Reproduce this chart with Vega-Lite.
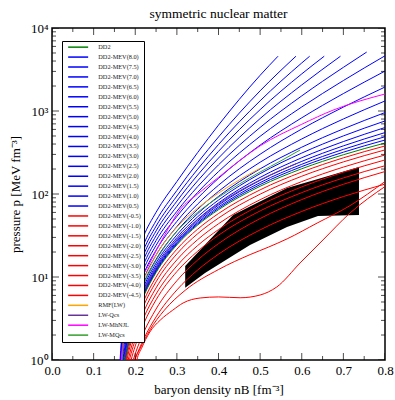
{
"$schema":"https://vega.github.io/schema/vega-lite/v6.json",
"width":333,"height":332,
"autosize":{"type":"none"},
"padding":{"left":52,"top":28,"right":10,"bottom":40},
"config":{"font":"Liberation Serif","view":{"stroke":"black","strokeWidth":1.5},
 "axis":{"grid":false,"domain":false,"labelColor":"black","titleColor":"black","labelFont":"Liberation Serif","titleFont":"Liberation Serif","titleFontWeight":"normal"}},
"title":{"text":"symmetric nuclear matter","font":"Liberation Serif","fontSize":13.5,"fontWeight":"normal","color":"black","offset":2,"anchor":"middle"},
"datasets":{
"band":[{"n":0.32,"top":13.6,"bot":7.4},{"n":0.3676,"top":24.4,"bot":11.2},{"n":0.435,"top":55.8,"bot":18.2},{"n":0.4757,"top":70.6,"bot":24.3},{"n":0.5646,"top":118,"bot":40},{"n":0.639,"top":152,"bot":54.3},{"n":0.7375,"top":211,"bot":55.8}],
"xmajor":[{"v":0},{"v":0.1},{"v":0.2},{"v":0.3},{"v":0.4},{"v":0.5},{"v":0.6},{"v":0.7},{"v":0.8}],
"xminor":[{"v":0.05},{"v":0.15},{"v":0.25},{"v":0.35},{"v":0.45},{"v":0.55},{"v":0.65},{"v":0.75}],
"ymajor":[{"v":1},{"v":10},{"v":100},{"v":1000},{"v":10000}],
"yminor":[{"v":2},{"v":3},{"v":4},{"v":5},{"v":6},{"v":7},{"v":8},{"v":9},{"v":20},{"v":30},{"v":40},{"v":50},{"v":60},{"v":70},{"v":80},{"v":90},{"v":200},{"v":300},{"v":400},{"v":500},{"v":600},{"v":700},{"v":800},{"v":900},{"v":2000},{"v":3000},{"v":4000},{"v":5000},{"v":6000},{"v":7000},{"v":8000},{"v":9000}],
"curves":[
{"m":"DD2-MEV(-0.5)","n":0.17,"p":0.575},{"m":"DD2-MEV(-0.5)","n":0.18,"p":1.124},{"m":"DD2-MEV(-0.5)","n":0.19,"p":1.852},{"m":"DD2-MEV(-0.5)","n":0.2,"p":2.76},{"m":"DD2-MEV(-0.5)","n":0.22,"p":5.11},{"m":"DD2-MEV(-0.5)","n":0.25,"p":9.975},{"m":"DD2-MEV(-0.5)","n":0.3,"p":21.63},{"m":"DD2-MEV(-0.5)","n":0.35,"p":37.71},{"m":"DD2-MEV(-0.5)","n":0.4,"p":58.17},{"m":"DD2-MEV(-0.5)","n":0.5,"p":112.2},{"m":"DD2-MEV(-0.5)","n":0.6,"p":183.8},{"m":"DD2-MEV(-0.5)","n":0.7,"p":272.8},{"m":"DD2-MEV(-0.5)","n":0.8,"p":379},
{"m":"DD2-MEV(-1.0)","n":0.17,"p":0.52},{"m":"DD2-MEV(-1.0)","n":0.18,"p":1.0},{"m":"DD2-MEV(-1.0)","n":0.19,"p":1.636},{"m":"DD2-MEV(-1.0)","n":0.2,"p":2.428},{"m":"DD2-MEV(-1.0)","n":0.22,"p":4.484},{"m":"DD2-MEV(-1.0)","n":0.25,"p":8.744},{"m":"DD2-MEV(-1.0)","n":0.3,"p":18.99},{"m":"DD2-MEV(-1.0)","n":0.35,"p":33.2},{"m":"DD2-MEV(-1.0)","n":0.4,"p":51.35},{"m":"DD2-MEV(-1.0)","n":0.5,"p":99.54},{"m":"DD2-MEV(-1.0)","n":0.6,"p":163.7},{"m":"DD2-MEV(-1.0)","n":0.7,"p":243.7},{"m":"DD2-MEV(-1.0)","n":0.8,"p":339.8},
{"m":"DD2-MEV(-1.5)","n":0.17,"p":0.45},{"m":"DD2-MEV(-1.5)","n":0.18,"p":0.853},{"m":"DD2-MEV(-1.5)","n":0.19,"p":1.388},{"m":"DD2-MEV(-1.5)","n":0.2,"p":2.054},{"m":"DD2-MEV(-1.5)","n":0.22,"p":3.784},{"m":"DD2-MEV(-1.5)","n":0.25,"p":7.387},{"m":"DD2-MEV(-1.5)","n":0.3,"p":16.09},{"m":"DD2-MEV(-1.5)","n":0.35,"p":28.22},{"m":"DD2-MEV(-1.5)","n":0.4,"p":43.82},{"m":"DD2-MEV(-1.5)","n":0.5,"p":85.44},{"m":"DD2-MEV(-1.5)","n":0.6,"p":141.2},{"m":"DD2-MEV(-1.5)","n":0.7,"p":211},{"m":"DD2-MEV(-1.5)","n":0.8,"p":295.1},
{"m":"DD2-MEV(-2.0)","n":0.18,"p":0.744},{"m":"DD2-MEV(-2.0)","n":0.19,"p":1.193},{"m":"DD2-MEV(-2.0)","n":0.2,"p":1.751},{"m":"DD2-MEV(-2.0)","n":0.22,"p":3.202},{"m":"DD2-MEV(-2.0)","n":0.25,"p":6.232},{"m":"DD2-MEV(-2.0)","n":0.3,"p":13.6},{"m":"DD2-MEV(-2.0)","n":0.35,"p":23.94},{"m":"DD2-MEV(-2.0)","n":0.4,"p":37.29},{"m":"DD2-MEV(-2.0)","n":0.5,"p":73.25},{"m":"DD2-MEV(-2.0)","n":0.6,"p":121.8},{"m":"DD2-MEV(-2.0)","n":0.7,"p":183},{"m":"DD2-MEV(-2.0)","n":0.8,"p":257.2},
{"m":"DD2-MEV(-2.5)","n":0.18,"p":0.618},{"m":"DD2-MEV(-2.5)","n":0.19,"p":1.0},{"m":"DD2-MEV(-2.5)","n":0.2,"p":1.476},{"m":"DD2-MEV(-2.5)","n":0.22,"p":2.716},{"m":"DD2-MEV(-2.5)","n":0.25,"p":5.309},{"m":"DD2-MEV(-2.5)","n":0.3,"p":11.62},{"m":"DD2-MEV(-2.5)","n":0.35,"p":20.46},{"m":"DD2-MEV(-2.5)","n":0.4,"p":31.88},{"m":"DD2-MEV(-2.5)","n":0.5,"p":62.57},{"m":"DD2-MEV(-2.5)","n":0.6,"p":103.9},{"m":"DD2-MEV(-2.5)","n":0.7,"p":156.1},{"m":"DD2-MEV(-2.5)","n":0.8,"p":219},
{"m":"DD2-MEV(-3.0)","n":0.19,"p":0.828},{"m":"DD2-MEV(-3.0)","n":0.2,"p":1.19},{"m":"DD2-MEV(-3.0)","n":0.22,"p":2.132},{"m":"DD2-MEV(-3.0)","n":0.25,"p":4.114},{"m":"DD2-MEV(-3.0)","n":0.3,"p":9.016},{"m":"DD2-MEV(-3.0)","n":0.35,"p":16.02},{"m":"DD2-MEV(-3.0)","n":0.4,"p":25.25},{"m":"DD2-MEV(-3.0)","n":0.5,"p":50.62},{"m":"DD2-MEV(-3.0)","n":0.6,"p":85.7},{"m":"DD2-MEV(-3.0)","n":0.7,"p":130.9},{"m":"DD2-MEV(-3.0)","n":0.8,"p":186.5},
{"m":"DD2-MEV(-3.5)","n":0.19,"p":0.739},{"m":"DD2-MEV(-3.5)","n":0.2,"p":1.032},{"m":"DD2-MEV(-3.5)","n":0.22,"p":1.776},{"m":"DD2-MEV(-3.5)","n":0.25,"p":3.303},{"m":"DD2-MEV(-3.5)","n":0.3,"p":6.982},{"m":"DD2-MEV(-3.5)","n":0.35,"p":12.14},{"m":"DD2-MEV(-3.5)","n":0.4,"p":18.83},{"m":"DD2-MEV(-3.5)","n":0.5,"p":36.97},{"m":"DD2-MEV(-3.5)","n":0.6,"p":61.66},{"m":"DD2-MEV(-3.5)","n":0.7,"p":93.18},{"m":"DD2-MEV(-3.5)","n":0.8,"p":131.6},
{"m":"DD2-MEV(-4.0)","n":0.19,"p":0.501},{"m":"DD2-MEV(-4.0)","n":0.199,"p":1.0},{"m":"DD2-MEV(-4.0)","n":0.21,"p":1.318},{"m":"DD2-MEV(-4.0)","n":0.235,"p":2.291},{"m":"DD2-MEV(-4.0)","n":0.27,"p":3.981},{"m":"DD2-MEV(-4.0)","n":0.32,"p":6.918},{"m":"DD2-MEV(-4.0)","n":0.4,"p":12.3},{"m":"DD2-MEV(-4.0)","n":0.476,"p":18.62},{"m":"DD2-MEV(-4.0)","n":0.52,"p":22.91},{"m":"DD2-MEV(-4.0)","n":0.565,"p":28.84},{"m":"DD2-MEV(-4.0)","n":0.637,"p":44.67},{"m":"DD2-MEV(-4.0)","n":0.716,"p":72.44},{"m":"DD2-MEV(-4.0)","n":0.8,"p":141.3},
{"m":"DD2-MEV(-4.5)","n":0.195,"p":0.501},{"m":"DD2-MEV(-4.5)","n":0.204,"p":1.0},{"m":"DD2-MEV(-4.5)","n":0.215,"p":1.38},{"m":"DD2-MEV(-4.5)","n":0.235,"p":2.173},{"m":"DD2-MEV(-4.5)","n":0.26,"p":3.02},{"m":"DD2-MEV(-4.5)","n":0.29,"p":3.981},{"m":"DD2-MEV(-4.5)","n":0.315,"p":4.864},{"m":"DD2-MEV(-4.5)","n":0.356,"p":5.585},{"m":"DD2-MEV(-4.5)","n":0.4,"p":5.754},{"m":"DD2-MEV(-4.5)","n":0.452,"p":5.623},{"m":"DD2-MEV(-4.5)","n":0.5,"p":6.067},{"m":"DD2-MEV(-4.5)","n":0.54,"p":7.586},{"m":"DD2-MEV(-4.5)","n":0.596,"p":14.76},{"m":"DD2-MEV(-4.5)","n":0.651,"p":27.93},{"m":"DD2-MEV(-4.5)","n":0.716,"p":59.02},{"m":"DD2-MEV(-4.5)","n":0.8,"p":123},
{"m":"DD2-MEV(0.5)","n":0.17,"p":0.662},{"m":"DD2-MEV(0.5)","n":0.18,"p":1.31},{"m":"DD2-MEV(0.5)","n":0.19,"p":2.17},{"m":"DD2-MEV(0.5)","n":0.2,"p":3.23},{"m":"DD2-MEV(0.5)","n":0.22,"p":5.98},{"m":"DD2-MEV(0.5)","n":0.25,"p":11.6},{"m":"DD2-MEV(0.5)","n":0.3,"p":25.1},{"m":"DD2-MEV(0.5)","n":0.35,"p":43.6},{"m":"DD2-MEV(0.5)","n":0.4,"p":67.1},{"m":"DD2-MEV(0.5)","n":0.5,"p":130},{"m":"DD2-MEV(0.5)","n":0.6,"p":214},{"m":"DD2-MEV(0.5)","n":0.7,"p":319},{"m":"DD2-MEV(0.5)","n":0.8,"p":447},
{"m":"DD2-MEV(1.0)","n":0.17,"p":0.679},{"m":"DD2-MEV(1.0)","n":0.18,"p":1.343},{"m":"DD2-MEV(1.0)","n":0.19,"p":2.228},{"m":"DD2-MEV(1.0)","n":0.2,"p":3.319},{"m":"DD2-MEV(1.0)","n":0.22,"p":6.166},{"m":"DD2-MEV(1.0)","n":0.25,"p":11.97},{"m":"DD2-MEV(1.0)","n":0.3,"p":25.82},{"m":"DD2-MEV(1.0)","n":0.35,"p":45.08},{"m":"DD2-MEV(1.0)","n":0.4,"p":69.82},{"m":"DD2-MEV(1.0)","n":0.5,"p":137.1},{"m":"DD2-MEV(1.0)","n":0.6,"p":228},{"m":"DD2-MEV(1.0)","n":0.7,"p":345.1},{"m":"DD2-MEV(1.0)","n":0.8,"p":489.8},
{"m":"DD2-MEV(1.5)","n":0.17,"p":0.7},{"m":"DD2-MEV(1.5)","n":0.18,"p":1.387},{"m":"DD2-MEV(1.5)","n":0.19,"p":2.307},{"m":"DD2-MEV(1.5)","n":0.2,"p":3.436},{"m":"DD2-MEV(1.5)","n":0.22,"p":6.383},{"m":"DD2-MEV(1.5)","n":0.25,"p":12.39},{"m":"DD2-MEV(1.5)","n":0.3,"p":26.79},{"m":"DD2-MEV(1.5)","n":0.35,"p":47.1},{"m":"DD2-MEV(1.5)","n":0.4,"p":73.45},{"m":"DD2-MEV(1.5)","n":0.5,"p":146.2},{"m":"DD2-MEV(1.5)","n":0.6,"p":247.2},{"m":"DD2-MEV(1.5)","n":0.7,"p":380.2},{"m":"DD2-MEV(1.5)","n":0.8,"p":549.5},
{"m":"DD2-MEV(2.0)","n":0.17,"p":0.728},{"m":"DD2-MEV(2.0)","n":0.18,"p":1.445},{"m":"DD2-MEV(2.0)","n":0.19,"p":2.404},{"m":"DD2-MEV(2.0)","n":0.2,"p":3.581},{"m":"DD2-MEV(2.0)","n":0.22,"p":6.668},{"m":"DD2-MEV(2.0)","n":0.25,"p":12.94},{"m":"DD2-MEV(2.0)","n":0.3,"p":28.05},{"m":"DD2-MEV(2.0)","n":0.35,"p":49.66},{"m":"DD2-MEV(2.0)","n":0.4,"p":78.16},{"m":"DD2-MEV(2.0)","n":0.5,"p":158.5},{"m":"DD2-MEV(2.0)","n":0.6,"p":273.5},{"m":"DD2-MEV(2.0)","n":0.7,"p":428.5},{"m":"DD2-MEV(2.0)","n":0.8,"p":632.4},
{"m":"DD2-MEV(2.5)","n":0.17,"p":0.766},{"m":"DD2-MEV(2.5)","n":0.18,"p":1.524},{"m":"DD2-MEV(2.5)","n":0.19,"p":2.535},{"m":"DD2-MEV(2.5)","n":0.2,"p":3.784},{"m":"DD2-MEV(2.5)","n":0.22,"p":7.063},{"m":"DD2-MEV(2.5)","n":0.25,"p":13.71},{"m":"DD2-MEV(2.5)","n":0.3,"p":29.79},{"m":"DD2-MEV(2.5)","n":0.35,"p":53.21},{"m":"DD2-MEV(2.5)","n":0.4,"p":84.53},{"m":"DD2-MEV(2.5)","n":0.5,"p":175.8},{"m":"DD2-MEV(2.5)","n":0.6,"p":311.2},{"m":"DD2-MEV(2.5)","n":0.7,"p":501.2},{"m":"DD2-MEV(2.5)","n":0.8,"p":758.6},
{"m":"DD2-MEV(3.0)","n":0.17,"p":0.815},{"m":"DD2-MEV(3.0)","n":0.18,"p":1.629},{"m":"DD2-MEV(3.0)","n":0.19,"p":2.716},{"m":"DD2-MEV(3.0)","n":0.2,"p":4.055},{"m":"DD2-MEV(3.0)","n":0.22,"p":7.586},{"m":"DD2-MEV(3.0)","n":0.25,"p":14.72},{"m":"DD2-MEV(3.0)","n":0.3,"p":32.14},{"m":"DD2-MEV(3.0)","n":0.35,"p":57.94},{"m":"DD2-MEV(3.0)","n":0.4,"p":93.54},{"m":"DD2-MEV(3.0)","n":0.5,"p":200.9},{"m":"DD2-MEV(3.0)","n":0.6,"p":366.4},{"m":"DD2-MEV(3.0)","n":0.7,"p":609.5},{"m":"DD2-MEV(3.0)","n":0.8,"p":957.2},
{"m":"DD2-MEV(3.5)","n":0.17,"p":0.891},{"m":"DD2-MEV(3.5)","n":0.18,"p":1.786},{"m":"DD2-MEV(3.5)","n":0.19,"p":2.992},{"m":"DD2-MEV(3.5)","n":0.2,"p":4.467},{"m":"DD2-MEV(3.5)","n":0.22,"p":8.375},{"m":"DD2-MEV(3.5)","n":0.25,"p":16.29},{"m":"DD2-MEV(3.5)","n":0.3,"p":35.73},{"m":"DD2-MEV(3.5)","n":0.35,"p":65.46},{"m":"DD2-MEV(3.5)","n":0.4,"p":107.6},{"m":"DD2-MEV(3.5)","n":0.5,"p":241.5},{"m":"DD2-MEV(3.5)","n":0.6,"p":460.3},{"m":"DD2-MEV(3.5)","n":0.7,"p":801.7},{"m":"DD2-MEV(3.5)","n":0.8,"p":1321},
{"m":"DD2-MEV(4.0)","n":0.17,"p":0.991},{"m":"DD2-MEV(4.0)","n":0.18,"p":2.0},{"m":"DD2-MEV(4.0)","n":0.19,"p":3.357},{"m":"DD2-MEV(4.0)","n":0.2,"p":5.023},{"m":"DD2-MEV(4.0)","n":0.22,"p":9.441},{"m":"DD2-MEV(4.0)","n":0.25,"p":18.37},{"m":"DD2-MEV(4.0)","n":0.3,"p":40.55},{"m":"DD2-MEV(4.0)","n":0.35,"p":75.68},{"m":"DD2-MEV(4.0)","n":0.4,"p":127.6},{"m":"DD2-MEV(4.0)","n":0.5,"p":301.3},{"m":"DD2-MEV(4.0)","n":0.6,"p":606.7},{"m":"DD2-MEV(4.0)","n":0.7,"p":1114},{"m":"DD2-MEV(4.0)","n":0.8,"p":1945},
{"m":"DD2-MEV(4.5)","n":0.16,"p":0.303},{"m":"DD2-MEV(4.5)","n":0.17,"p":1.117},{"m":"DD2-MEV(4.5)","n":0.18,"p":2.27},{"m":"DD2-MEV(4.5)","n":0.19,"p":3.828},{"m":"DD2-MEV(4.5)","n":0.2,"p":5.728},{"m":"DD2-MEV(4.5)","n":0.22,"p":10.84},{"m":"DD2-MEV(4.5)","n":0.25,"p":21.04},{"m":"DD2-MEV(4.5)","n":0.3,"p":46.77},{"m":"DD2-MEV(4.5)","n":0.35,"p":89.13},{"m":"DD2-MEV(4.5)","n":0.4,"p":154.5},{"m":"DD2-MEV(4.5)","n":0.5,"p":388.1},{"m":"DD2-MEV(4.5)","n":0.6,"p":827.9},{"m":"DD2-MEV(4.5)","n":0.7,"p":1622},{"m":"DD2-MEV(4.5)","n":0.8,"p":3027},
{"m":"DD2-MEV(5.0)","n":0.16,"p":0.324},{"m":"DD2-MEV(5.0)","n":0.17,"p":1.256},{"m":"DD2-MEV(5.0)","n":0.18,"p":2.564},{"m":"DD2-MEV(5.0)","n":0.19,"p":4.345},{"m":"DD2-MEV(5.0)","n":0.2,"p":6.516},{"m":"DD2-MEV(5.0)","n":0.22,"p":12.36},{"m":"DD2-MEV(5.0)","n":0.25,"p":24.04},{"m":"DD2-MEV(5.0)","n":0.3,"p":53.7},{"m":"DD2-MEV(5.0)","n":0.35,"p":104.5},{"m":"DD2-MEV(5.0)","n":0.4,"p":186.2},{"m":"DD2-MEV(5.0)","n":0.5,"p":495.5},{"m":"DD2-MEV(5.0)","n":0.6,"p":1119},{"m":"DD2-MEV(5.0)","n":0.7,"p":2328},{"m":"DD2-MEV(5.0)","n":0.8,"p":4624},
{"m":"DD2-MEV(5.5)","n":0.16,"p":0.344},{"m":"DD2-MEV(5.5)","n":0.17,"p":1.413},{"m":"DD2-MEV(5.5)","n":0.18,"p":2.904},{"m":"DD2-MEV(5.5)","n":0.19,"p":4.932},{"m":"DD2-MEV(5.5)","n":0.2,"p":7.413},{"m":"DD2-MEV(5.5)","n":0.22,"p":14.13},{"m":"DD2-MEV(5.5)","n":0.25,"p":27.48},{"m":"DD2-MEV(5.5)","n":0.3,"p":61.8},{"m":"DD2-MEV(5.5)","n":0.35,"p":122.7},{"m":"DD2-MEV(5.5)","n":0.4,"p":224.4},{"m":"DD2-MEV(5.5)","n":0.5,"p":633.9},{"m":"DD2-MEV(5.5)","n":0.6,"p":1521},{"m":"DD2-MEV(5.5)","n":0.7,"p":3357},{"m":"DD2-MEV(5.5)","n":0.756,"p":5129},
{"m":"DD2-MEV(6.0)","n":0.16,"p":0.367},{"m":"DD2-MEV(6.0)","n":0.17,"p":1.589},{"m":"DD2-MEV(6.0)","n":0.18,"p":3.289},{"m":"DD2-MEV(6.0)","n":0.19,"p":5.61},{"m":"DD2-MEV(6.0)","n":0.2,"p":8.433},{"m":"DD2-MEV(6.0)","n":0.22,"p":16.14},{"m":"DD2-MEV(6.0)","n":0.25,"p":31.41},{"m":"DD2-MEV(6.0)","n":0.3,"p":71.12},{"m":"DD2-MEV(6.0)","n":0.35,"p":144.2},{"m":"DD2-MEV(6.0)","n":0.4,"p":271},{"m":"DD2-MEV(6.0)","n":0.5,"p":810.9},{"m":"DD2-MEV(6.0)","n":0.6,"p":2061},{"m":"DD2-MEV(6.0)","n":0.693,"p":4571},
{"m":"DD2-MEV(6.5)","n":0.16,"p":0.392},{"m":"DD2-MEV(6.5)","n":0.17,"p":1.786},{"m":"DD2-MEV(6.5)","n":0.18,"p":3.724},{"m":"DD2-MEV(6.5)","n":0.19,"p":6.383},{"m":"DD2-MEV(6.5)","n":0.2,"p":9.594},{"m":"DD2-MEV(6.5)","n":0.22,"p":18.45},{"m":"DD2-MEV(6.5)","n":0.25,"p":35.89},{"m":"DD2-MEV(6.5)","n":0.3,"p":82.04},{"m":"DD2-MEV(6.5)","n":0.35,"p":169.4},{"m":"DD2-MEV(6.5)","n":0.4,"p":326.6},{"m":"DD2-MEV(6.5)","n":0.5,"p":1038},{"m":"DD2-MEV(6.5)","n":0.6,"p":2799},{"m":"DD2-MEV(6.5)","n":0.654,"p":4571},
{"m":"DD2-MEV(7.0)","n":0.16,"p":0.417},{"m":"DD2-MEV(7.0)","n":0.17,"p":2.009},{"m":"DD2-MEV(7.0)","n":0.18,"p":4.217},{"m":"DD2-MEV(7.0)","n":0.19,"p":7.244},{"m":"DD2-MEV(7.0)","n":0.2,"p":10.94},{"m":"DD2-MEV(7.0)","n":0.22,"p":21.09},{"m":"DD2-MEV(7.0)","n":0.25,"p":41.02},{"m":"DD2-MEV(7.0)","n":0.3,"p":94.41},{"m":"DD2-MEV(7.0)","n":0.35,"p":199.1},{"m":"DD2-MEV(7.0)","n":0.4,"p":394.5},{"m":"DD2-MEV(7.0)","n":0.5,"p":1327},{"m":"DD2-MEV(7.0)","n":0.6,"p":3793},{"m":"DD2-MEV(7.0)","n":0.619,"p":4571},
{"m":"DD2-MEV(7.5)","n":0.16,"p":0.449},{"m":"DD2-MEV(7.5)","n":0.17,"p":2.296},{"m":"DD2-MEV(7.5)","n":0.18,"p":4.853},{"m":"DD2-MEV(7.5)","n":0.19,"p":8.375},{"m":"DD2-MEV(7.5)","n":0.2,"p":12.65},{"m":"DD2-MEV(7.5)","n":0.22,"p":24.49},{"m":"DD2-MEV(7.5)","n":0.25,"p":47.64},{"m":"DD2-MEV(7.5)","n":0.3,"p":110.4},{"m":"DD2-MEV(7.5)","n":0.35,"p":238.8},{"m":"DD2-MEV(7.5)","n":0.4,"p":486.4},{"m":"DD2-MEV(7.5)","n":0.5,"p":1750},{"m":"DD2-MEV(7.5)","n":0.586,"p":4571},
{"m":"DD2-MEV(8.0)","n":0.16,"p":0.501},{"m":"DD2-MEV(8.0)","n":0.17,"p":2.818},{"m":"DD2-MEV(8.0)","n":0.18,"p":6.026},{"m":"DD2-MEV(8.0)","n":0.19,"p":10.47},{"m":"DD2-MEV(8.0)","n":0.2,"p":15.85},{"m":"DD2-MEV(8.0)","n":0.22,"p":30.9},{"m":"DD2-MEV(8.0)","n":0.25,"p":60.26},{"m":"DD2-MEV(8.0)","n":0.3,"p":141.3},{"m":"DD2-MEV(8.0)","n":0.35,"p":316.2},{"m":"DD2-MEV(8.0)","n":0.4,"p":676.1},{"m":"DD2-MEV(8.0)","n":0.5,"p":2692},{"m":"DD2-MEV(8.0)","n":0.543,"p":4571},
{"m":"DD2","n":0.16,"p":0.226},{"m":"DD2","n":0.17,"p":0.647},{"m":"DD2","n":0.18,"p":1.276},{"m":"DD2","n":0.19,"p":2.113},{"m":"DD2","n":0.2,"p":3.148},{"m":"DD2","n":0.22,"p":5.834},{"m":"DD2","n":0.25,"p":11.32},{"m":"DD2","n":0.3,"p":24.38},{"m":"DD2","n":0.35,"p":42.27},{"m":"DD2","n":0.4,"p":64.71},{"m":"DD2","n":0.5,"p":123.9},{"m":"DD2","n":0.6,"p":201.4},{"m":"DD2","n":0.7,"p":297.2},{"m":"DD2","n":0.8,"p":411.1},
{"m":"LW-Qcs","n":0.165,"p":0.398},{"m":"LW-Qcs","n":0.17,"p":0.759},{"m":"LW-Qcs","n":0.18,"p":1.445},{"m":"LW-Qcs","n":0.19,"p":2.399},{"m":"LW-Qcs","n":0.2,"p":3.548},{"m":"LW-Qcs","n":0.22,"p":6.607},{"m":"LW-Qcs","n":0.25,"p":12.88},{"m":"LW-Qcs","n":0.3,"p":28.18},{"m":"LW-Qcs","n":0.35,"p":48.98},{"m":"LW-Qcs","n":0.4,"p":75.86},{"m":"LW-Qcs","n":0.5,"p":147.9},{"m":"LW-Qcs","n":0.589,"p":234.4},
{"m":"RMF(LW)","n":0.165,"p":0.708},{"m":"RMF(LW)","n":0.17,"p":1.413},{"m":"RMF(LW)","n":0.18,"p":2.818},{"m":"RMF(LW)","n":0.19,"p":4.266},{"m":"RMF(LW)","n":0.2,"p":5.888},{"m":"RMF(LW)","n":0.22,"p":9.333},{"m":"RMF(LW)","n":0.25,"p":18.2},{"m":"RMF(LW)","n":0.3,"p":39.81},{"m":"RMF(LW)","n":0.35,"p":67.61},{"m":"RMF(LW)","n":0.4,"p":102.3},{"m":"RMF(LW)","n":0.45,"p":147.9},{"m":"RMF(LW)","n":0.5,"p":204.2},
{"m":"LW-MQcs","n":0.165,"p":0.631},{"m":"LW-MQcs","n":0.17,"p":1.259},{"m":"LW-MQcs","n":0.18,"p":2.512},{"m":"LW-MQcs","n":0.19,"p":3.802},{"m":"LW-MQcs","n":0.2,"p":5.248},{"m":"LW-MQcs","n":0.22,"p":8.318},{"m":"LW-MQcs","n":0.25,"p":15.85},{"m":"LW-MQcs","n":0.3,"p":35.48},{"m":"LW-MQcs","n":0.35,"p":60.26},{"m":"LW-MQcs","n":0.4,"p":91.2},{"m":"LW-MQcs","n":0.45,"p":131.8},{"m":"LW-MQcs","n":0.5,"p":184.1},{"m":"LW-MQcs","n":0.55,"p":251.2},{"m":"LW-MQcs","n":0.596,"p":338.8},
{"m":"LW-MhNJL","n":0.165,"p":0.794},{"m":"LW-MhNJL","n":0.17,"p":1.585},{"m":"LW-MhNJL","n":0.18,"p":3.162},{"m":"LW-MhNJL","n":0.19,"p":4.786},{"m":"LW-MhNJL","n":0.2,"p":6.607},{"m":"LW-MhNJL","n":0.235,"p":14.79},{"m":"LW-MhNJL","n":0.27,"p":31.62},{"m":"LW-MhNJL","n":0.3075,"p":64.57},{"m":"LW-MhNJL","n":0.35,"p":100},{"m":"LW-MhNJL","n":0.4,"p":158.5},{"m":"LW-MhNJL","n":0.45,"p":251.2},{"m":"LW-MhNJL","n":0.5,"p":380.2},{"m":"LW-MhNJL","n":0.6,"p":691.8},{"m":"LW-MhNJL","n":0.675,"p":1023},{"m":"LW-MhNJL","n":0.8,"p":1603}
]},
"layer":[
{"data":{"name":"band"},"mark":{"type":"area","color":"black","interpolate":"linear"},
 "encoding":{
  "x":{"field":"n","type":"quantitative","scale":{"domain":[0,0.8],"nice":false,"zero":false},
   "axis":{"orient":"bottom","values":[0,0.1,0.2,0.3,0.4,0.5,0.6,0.7,0.8],"format":".1f","ticks":false,"labelPadding":4,"labelFontSize":13,"labelFlush":false,"title":"baryon density  nB    [fm\u207b\u00b3]","titleFontSize":13,"titlePadding":6}},
  "y":{"field":"top","type":"quantitative","scale":{"type":"log","domain":[1,10000],"nice":false},
   "axis":{"orient":"left","values":[1,10,100,1000,10000],"ticks":false,"labelPadding":4,"labelFontSize":13,"labelExpr":"datum.value == 1 ? '10\u2070' : datum.value == 10 ? '10\u00b9' : datum.value == 100 ? '10\u00b2' : datum.value == 1000 ? '10\u00b3' : '10\u2074'","title":"pressure     p     [MeV fm\u207b\u00b3]","titleFontSize":13,"titlePadding":8}},
  "y2":{"field":"bot"}}},
{"data":{"name":"curves"},"mark":{"type":"line","interpolate":"monotone","clip":true,"strokeWidth":1},
 "encoding":{
  "x":{"field":"n","type":"quantitative","scale":{"domain":[0,0.8],"nice":false,"zero":false},"axis":null},
  "y":{"field":"p","type":"quantitative","scale":{"type":"log","domain":[1,10000],"nice":false},"axis":null},
  "color":{"field":"m","type":"nominal","scale":{"domain":["DD2","DD2-MEV(8.0)","DD2-MEV(7.5)","DD2-MEV(7.0)","DD2-MEV(6.5)","DD2-MEV(6.0)","DD2-MEV(5.5)","DD2-MEV(5.0)","DD2-MEV(4.5)","DD2-MEV(4.0)","DD2-MEV(3.5)","DD2-MEV(3.0)","DD2-MEV(2.5)","DD2-MEV(2.0)","DD2-MEV(1.5)","DD2-MEV(1.0)","DD2-MEV(0.5)","DD2-MEV(-0.5)","DD2-MEV(-1.0)","DD2-MEV(-1.5)","DD2-MEV(-2.0)","DD2-MEV(-2.5)","DD2-MEV(-3.0)","DD2-MEV(-3.5)","DD2-MEV(-4.0)","DD2-MEV(-4.5)","RMF(LW)","LW-Qcs","LW-MhNJL","LW-MQcs"],
    "range":["#008000","#0000ff","#0000ff","#0000ff","#0000ff","#0000ff","#0000ff","#0000ff","#0000ff","#0000ff","#0000ff","#0000ff","#0000ff","#0000ff","#0000ff","#0000ff","#0000ff","#ff0000","#ff0000","#ff0000","#ff0000","#ff0000","#ff0000","#ff0000","#ff0000","#ff0000","#ffa500","#663399","#ff00ff","#33a02c"]},
   "legend":{"orient":"none","legendX":10,"legendY":13,"title":null,"direction":"vertical","columns":1,"symbolType":"M0,0H10","symbolSize":16,"symbolStrokeWidth":1.5,"labelFont":"Liberation Serif","labelFontSize":6.3,"labelColor":"#222222","labelOffset":27,"padding":3,"rowPadding":2.93,"strokeColor":"black","fillColor":"white","symbolLimit":40,"labelLimit":120,"zindex":2}},
  "strokeWidth":{"condition":{"test":"indexof(['RMF(LW)','LW-Qcs','LW-MhNJL','LW-MQcs'], datum.m) >= 0","value":1.6},"value":1}}},
{"data":{"name":"xmajor"},"mark":{"type":"tick","orient":"vertical","size":14,"thickness":1,"color":"black","clip":true},
 "encoding":{"x":{"field":"v","type":"quantitative","scale":{"domain":[0,0.8],"nice":false,"zero":false},"axis":null},
  "y":{"datum":1,"type":"quantitative","scale":{"type":"log","domain":[1,10000],"nice":false},"axis":null}}},
{"data":{"name":"xmajor"},"mark":{"type":"tick","orient":"vertical","size":14,"thickness":1,"color":"black","clip":true},
 "encoding":{"x":{"field":"v","type":"quantitative","scale":{"domain":[0,0.8],"nice":false,"zero":false},"axis":null},
  "y":{"datum":10000,"type":"quantitative","scale":{"type":"log","domain":[1,10000],"nice":false},"axis":null}}},
{"data":{"name":"xminor"},"mark":{"type":"tick","orient":"vertical","size":8,"thickness":1,"color":"black","clip":true},
 "encoding":{"x":{"field":"v","type":"quantitative","scale":{"domain":[0,0.8],"nice":false,"zero":false},"axis":null},
  "y":{"datum":1,"type":"quantitative","scale":{"type":"log","domain":[1,10000],"nice":false},"axis":null}}},
{"data":{"name":"xminor"},"mark":{"type":"tick","orient":"vertical","size":8,"thickness":1,"color":"black","clip":true},
 "encoding":{"x":{"field":"v","type":"quantitative","scale":{"domain":[0,0.8],"nice":false,"zero":false},"axis":null},
  "y":{"datum":10000,"type":"quantitative","scale":{"type":"log","domain":[1,10000],"nice":false},"axis":null}}},
{"data":{"name":"ymajor"},"mark":{"type":"tick","orient":"horizontal","size":14,"thickness":1,"color":"black","clip":true},
 "encoding":{"y":{"field":"v","type":"quantitative","scale":{"type":"log","domain":[1,10000],"nice":false},"axis":null},
  "x":{"datum":0,"type":"quantitative","scale":{"domain":[0,0.8],"nice":false,"zero":false},"axis":null}}},
{"data":{"name":"ymajor"},"mark":{"type":"tick","orient":"horizontal","size":14,"thickness":1,"color":"black","clip":true},
 "encoding":{"y":{"field":"v","type":"quantitative","scale":{"type":"log","domain":[1,10000],"nice":false},"axis":null},
  "x":{"datum":0.8,"type":"quantitative","scale":{"domain":[0,0.8],"nice":false,"zero":false},"axis":null}}},
{"data":{"name":"yminor"},"mark":{"type":"tick","orient":"horizontal","size":8,"thickness":1,"color":"black","clip":true},
 "encoding":{"y":{"field":"v","type":"quantitative","scale":{"type":"log","domain":[1,10000],"nice":false},"axis":null},
  "x":{"datum":0,"type":"quantitative","scale":{"domain":[0,0.8],"nice":false,"zero":false},"axis":null}}},
{"data":{"name":"yminor"},"mark":{"type":"tick","orient":"horizontal","size":8,"thickness":1,"color":"black","clip":true},
 "encoding":{"y":{"field":"v","type":"quantitative","scale":{"type":"log","domain":[1,10000],"nice":false},"axis":null},
  "x":{"datum":0.8,"type":"quantitative","scale":{"domain":[0,0.8],"nice":false,"zero":false},"axis":null}}}
],
"resolve":{"axis":{"x":"independent","y":"independent"}}
}
